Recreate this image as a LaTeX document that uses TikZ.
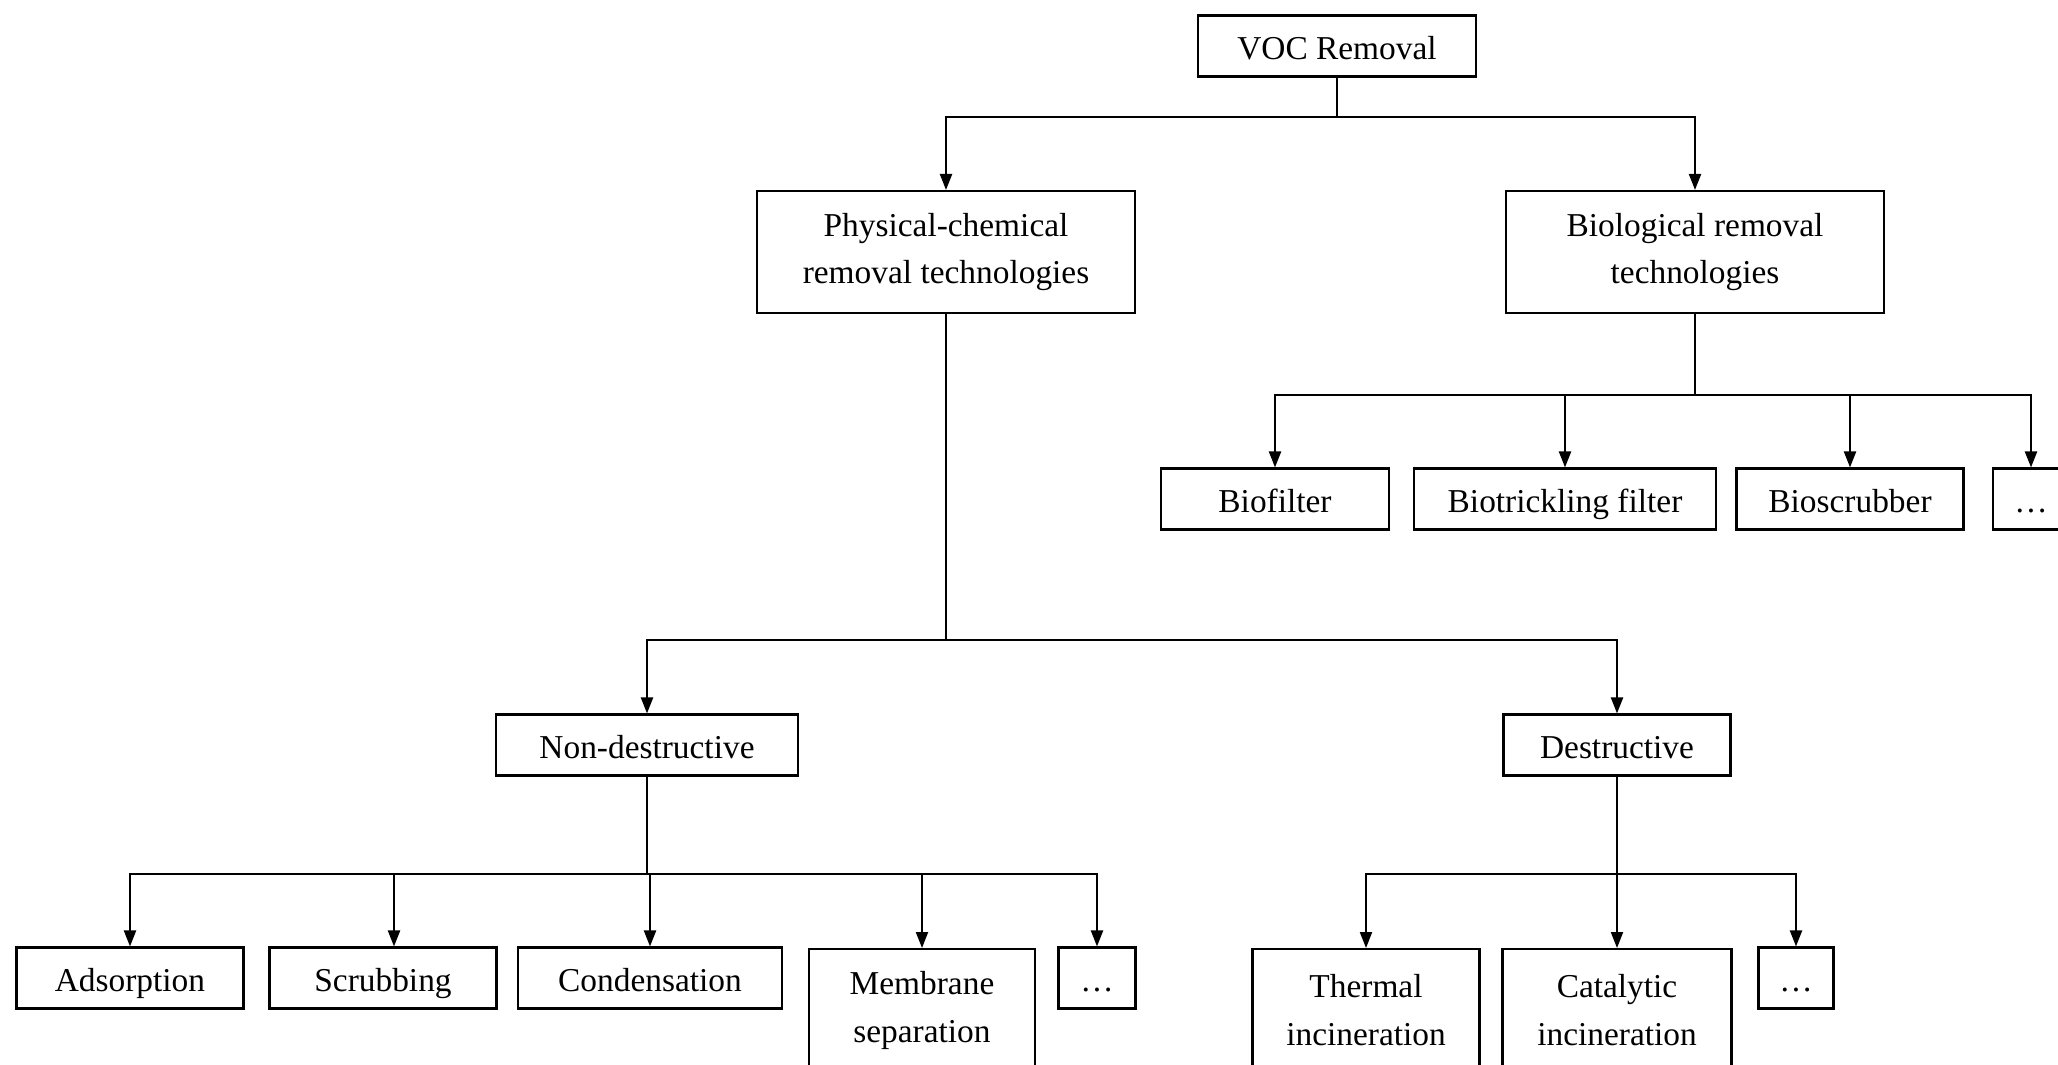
\documentclass[tikz,border=0pt]{standalone}
\usepackage{fontspec}
\setmainfont{Liberation Serif}
\usetikzlibrary{arrows.meta}

\begin{document}
\begin{tikzpicture}[>={Triangle[length=1.6mm, width=1.2mm]}]
        % Styles
        \tikzset{frame/.style={rectangle, draw, line width=0.6pt, inner sep=0pt, font=\fontsize{9.5}{13.6}\selectfont}}
        \tikzset{tech/.style={frame, minimum height=0.61cm, text height=0.9em, text depth=0.16em}}
        \tikzset{group/.style={frame, minimum height=1.22cm, align=center}}
        \tikzset{link/.style={line width=0.6pt}}

        \useasboundingbox (0,0) rectangle (20.58,-10.64);

        % Root
        \node[tech, minimum width=2.78cm] (voc) at (13.37,-0.46) {VOC Removal};

        % Families
        \node[group, minimum width=3.78cm] (phys) at (9.46,-2.52) {Physical-chemical\\removal technologies};
        \node[group, minimum width=3.78cm] (bio) at (16.95,-2.52) {Biological removal\\technologies};

        % Biological
        \node[tech, minimum width=2.28cm] (biofilter) at (12.75,-4.99) {Biofilter};
        \node[tech, minimum width=3.02cm] (trickling) at (15.65,-4.99) {Biotrickling filter};
        \node[tech, minimum width=2.27cm] (bioscrub) at (18.50,-4.99) {Bioscrubber};
        \node[tech, minimum width=0.76cm] (biomore) at (20.31,-4.99) {…};

        % Physical-chemical
        \node[tech, minimum width=3.02cm] (nondes) at (6.47,-7.45) {Non-destructive};
        \node[tech, minimum width=2.27cm] (des) at (16.17,-7.45) {Destructive};

        % Non-destructive
        \node[tech, minimum width=2.27cm] (adsorp) at (1.30,-9.78) {Adsorption};
        \node[tech, minimum width=2.27cm] (scrub) at (3.83,-9.78) {Scrubbing};
        \node[tech, minimum width=2.64cm] (conden) at (6.50,-9.78) {Condensation};
        \node[group, minimum width=2.26cm, anchor=north] (membrane) at (9.22,-9.48) {Membrane\\separation};
        \node[tech, minimum width=0.77cm] (ndmore) at (10.97,-9.78) {…};

        % Destructive
        \node[group, minimum width=2.27cm, anchor=north] (thermal) at (13.66,-9.48) {Thermal\\incineration};
        \node[group, minimum width=2.29cm, anchor=north] (catalytic) at (16.17,-9.48) {Catalytic\\incineration};
        \node[tech, minimum width=0.75cm] (desmore) at (17.96,-9.78) {…};

        % Junctions
        \coordinate (jroot) at (0,-1.17);
        \coordinate (jbio) at (0,-3.95);
        \coordinate (jphys) at (0,-6.40);
        \coordinate (jlow) at (0,-8.74);

        % Connections
        \foreach \child in {phys, bio}
            \draw[link, ->] (voc.south) |- (\child.north |- jroot) -- (\child.north);
        \foreach \child in {biofilter, trickling, bioscrub, biomore}
            \draw[link, ->] (bio.south) |- (\child.north |- jbio) -- (\child.north);
        \foreach \child in {nondes, des}
            \draw[link, ->] (phys.south) |- (\child.north |- jphys) -- (\child.north);
        \foreach \child in {adsorp, conden, membrane, ndmore}
            \draw[link, ->] (nondes.south) |- (\child.north |- jlow) -- (\child.north);
        \draw[link, ->] (nondes.south) |- ([xshift=1.1mm]scrub.north |- jlow) -- ([xshift=1.1mm]scrub.north);
        \foreach \child in {thermal, catalytic, desmore}
            \draw[link, ->] (des.south) |- (\child.north |- jlow) -- (\child.north);
    \end{tikzpicture}
\end{document}
